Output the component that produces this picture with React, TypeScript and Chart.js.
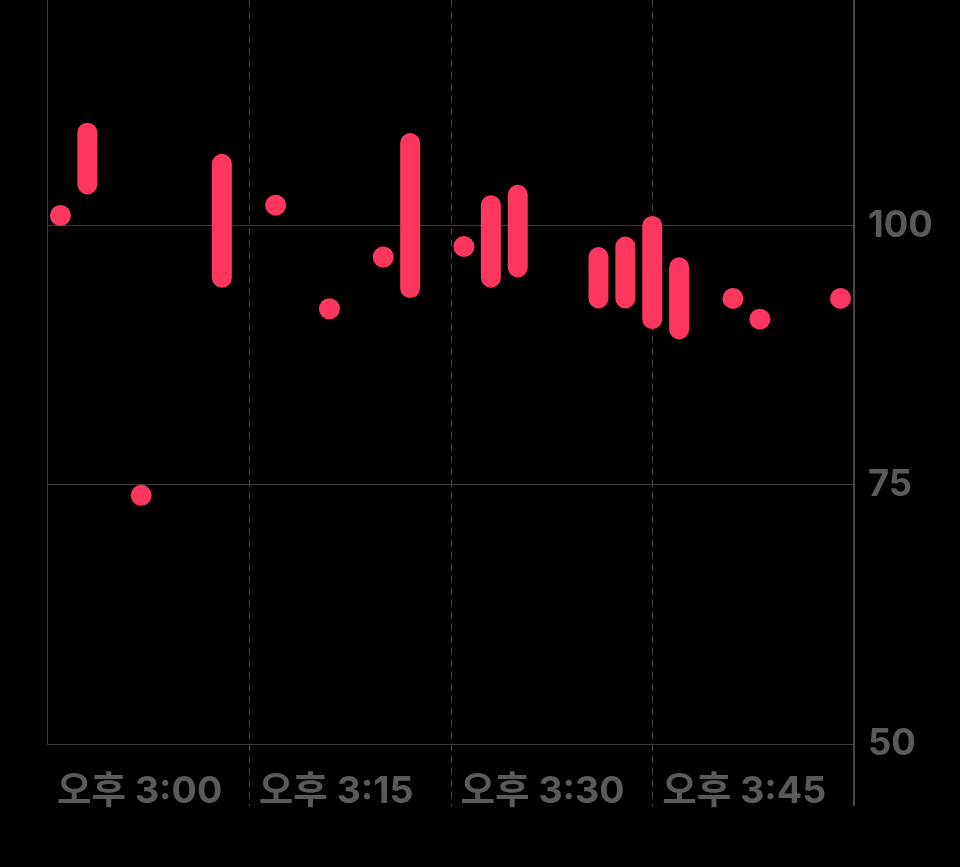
import React, { useEffect, useRef } from 'react';
import { Chart, registerables } from 'chart.js';

Chart.register(...registerables);

// minutes after 3:00 PM (2-minute buckets)
const rangeMinutes = [3, 13, 27, 33, 35, 41, 43, 45, 47];
const rangeLow = [104, 95, 94, 95, 96, 93, 93, 91, 90];
const rangeHigh = [109, 106, 108, 102, 103, 97, 98, 100, 96];
const dotMinutes = [1, 7, 17, 21, 25, 31, 51, 53, 59];
const dotValues = [101, 74, 102, 92, 97, 98, 93, 91, 93];

const xTickMinutes = [0, 15, 30, 45, 60];
const xTickLabels = ['오후 3:00', '오후 3:15', '오후 3:30', '오후 3:45', ''];
const yTicks = [50, 75, 100];

const PINK = '#ff375f';
const GRID = '#3a3a3c';
const LABEL = '#5a5a5e';
const FONT = "Inter, 'Noto Sans CJK KR', 'Noto Sans', sans-serif";

const timeGridPlugin = {
  id: 'timeGrid',
  beforeDatasetsDraw(chart: any) {
    const { ctx, chartArea, scales } = chart;
    const x = scales.x;
    const ext = 62;
    ctx.save();
    xTickMinutes.forEach((m, i) => {
      const px = x.getPixelForValue(m);
      ctx.beginPath();
      if (i === 0) {
        ctx.strokeStyle = GRID;
        ctx.lineWidth = 1;
        ctx.setLineDash([]);
        ctx.moveTo(Math.round(px) + 0.5, chartArea.top);
        ctx.lineTo(Math.round(px) + 0.5, chartArea.bottom);
      } else if (i === xTickMinutes.length - 1) {
        ctx.strokeStyle = '#46464a';
        ctx.lineWidth = 2;
        ctx.setLineDash([]);
        ctx.moveTo(Math.round(px), chartArea.top);
        ctx.lineTo(Math.round(px), chartArea.bottom + ext);
      } else {
        ctx.strokeStyle = '#4a4a4e';
        ctx.lineWidth = 1;
        ctx.setLineDash([7, 5]);
        ctx.moveTo(Math.round(px) + 0.5, chartArea.top);
        ctx.lineTo(Math.round(px) + 0.5, chartArea.bottom + ext);
      }
      ctx.stroke();
    });
    ctx.restore();
  },
};

export default function App() {
  const canvasRef = useRef<HTMLCanvasElement | null>(null);

  useEffect(() => {
    const canvas = canvasRef.current;
    if (!canvas) return;

    const rangeData: any[] = [];
    rangeMinutes.forEach((m, i) => {
      rangeData.push({ x: m, y: rangeLow[i] });
      rangeData.push({ x: m, y: rangeHigh[i] });
      rangeData.push({ x: m, y: null });
    });
    const dotData = dotMinutes.map((m, i) => ({ x: m, y: dotValues[i] }));

    const chart = new Chart(canvas, {
      type: 'scatter',
      data: {
        datasets: [
          {
            data: rangeData,
            showLine: true,
            spanGaps: false,
            borderColor: PINK,
            borderWidth: 20,
            borderCapStyle: 'round',
            pointRadius: 0,
            pointHoverRadius: 0,
            tension: 0,
          } as any,
          {
            data: dotData,
            showLine: false,
            pointRadius: 10.5,
            pointHoverRadius: 10.5,
            pointBackgroundColor: PINK,
            pointBorderWidth: 0,
          } as any,
        ],
      },
      options: {
        animation: false,
        responsive: false,
        maintainAspectRatio: false,
        devicePixelRatio: 1,
        events: [],
        layout: { autoPadding: false, padding: { left: 47, top: 0, right: 0, bottom: 0 } },
        plugins: {
          legend: { display: false },
          tooltip: { enabled: false },
        },
        scales: {
          x: {
            type: 'linear',
            min: 0,
            max: 60,
            afterBuildTicks: (s: any) => {
              s.ticks = xTickMinutes.map((v) => ({ value: v }));
            },
            afterFit: (s: any) => {
              s.height = 123;
              s.paddingLeft = 0;
              s.paddingRight = 0;
              s.paddingTop = 0;
              s.paddingBottom = 0;
            },
            grid: { display: false },
            border: { display: false },
            ticks: {
              autoSkip: false,
              maxRotation: 0,
              minRotation: 0,
              align: 'start',
              labelOffset: 10,
              padding: 17,
              color: LABEL,
              font: { family: FONT, size: 37.5, weight: 'bold' },
              callback: (_v: any, i: number) => xTickLabels[i],
            },
          },
          y: {
            type: 'linear',
            position: 'right',
            min: 50,
            max: 121.8,
            afterBuildTicks: (s: any) => {
              s.ticks = yTicks.map((v) => ({ value: v }));
            },
            afterFit: (s: any) => {
              s.width = 106;
              s.paddingTop = 0;
              s.paddingBottom = 0;
              s.paddingLeft = 0;
              s.paddingRight = 0;
            },
            grid: { color: GRID, lineWidth: 1, drawTicks: false },
            border: { display: false },
            ticks: {
              padding: 14,
              crossAlign: 'near',
              color: LABEL,
              font: { family: FONT, size: 36.5, weight: 'bold' },
              callback: (v: any) => String(v),
            },
          },
        },
      } as any,
      plugins: [timeGridPlugin],
    });

    return () => {
      chart.destroy();
    };
  }, []);

  return (
    <div
      style={{
        position: 'fixed',
        left: 0,
        top: 0,
        width: 960,
        height: 867,
        background: '#000',
      }}
    >
      <canvas ref={canvasRef} width={960} height={867} style={{ display: 'block', width: 960, height: 867 }} />
    </div>
  );
}
